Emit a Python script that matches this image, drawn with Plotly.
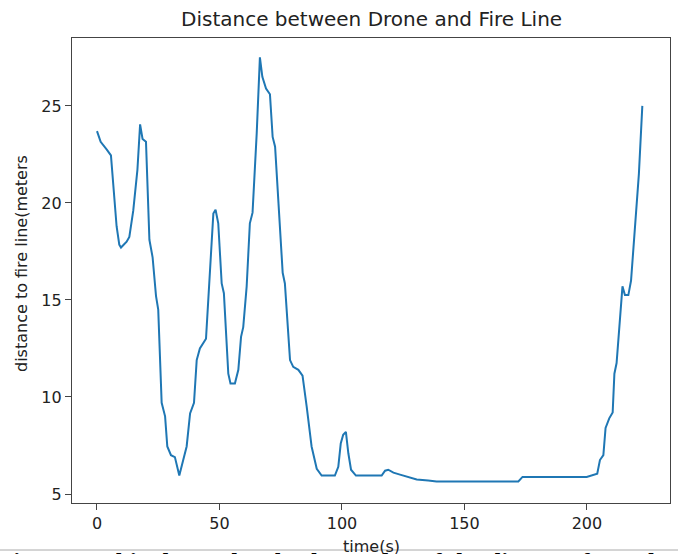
import plotly.graph_objects as go

time_s = [0, 1.5, 4, 5.7, 8, 9.1, 9.8, 12.1, 13.2, 14.8,
          16.5, 17.6, 18.6, 20, 21.4, 22.7, 24.1, 25, 26.4, 27.8,
          28.7, 30.2, 31.8, 33.6, 35.2, 36.6, 38, 39.6, 40.7, 42,
          44.5, 46.1, 47.5, 48.4, 49.5, 50.9, 51.8, 53.6, 54.5, 56.3,
          57.7, 58.8, 59.7, 61.1, 62.4, 63.5, 65.2, 66.5, 67.5, 69,
          70.6, 71.7, 72.7, 75.8, 76.7, 78.8, 80.1, 82.2, 83.9, 85.6,
          87.6, 89.7, 91.7, 97.1, 98.5, 99.5, 100.5, 101.6, 102.6, 103.7,
          105.7, 116.2, 117.6, 118.9, 121, 123.7, 126.4, 130.5, 135.2, 138.6,
          172, 173.7, 199.9, 204.2, 205.3, 206.7, 207.6, 209.1, 210.5, 211.2,
          212.1, 214.5, 215.5, 216.9, 218, 219.6, 221.2, 222.6]

distance_m = [23.7, 23.15, 22.75, 22.45, 18.8, 17.85, 17.7, 18.0, 18.25, 19.6,
              21.7, 24.05, 23.3, 23.15, 18.1, 17.2, 15.2, 14.5, 9.7, 9.0,
              7.45, 7.0, 6.9, 5.95, 6.75, 7.45, 9.15, 9.7, 11.9, 12.5,
              13.0, 16.7, 19.45, 19.65, 18.95, 15.85, 15.35, 11.2, 10.7, 10.7,
              11.4, 13.1, 13.6, 15.7, 18.95, 19.5, 23.6, 27.5, 26.5, 25.9,
              25.6, 23.4, 22.9, 16.4, 15.85, 11.9, 11.55, 11.4, 11.1, 9.5,
              7.45, 6.3, 5.95, 5.95, 6.4, 7.6, 8.05, 8.2, 7.1, 6.25,
              5.95, 5.95, 6.2, 6.25, 6.1, 6.0, 5.9, 5.75, 5.7, 5.65,
              5.65, 5.88, 5.88, 6.05, 6.75, 7.0, 8.4, 8.9, 9.2, 11.2,
              11.75, 15.7, 15.25, 15.25, 16.0, 18.6, 21.5, 25.0]

x_ticks = [0, 50, 100, 150, 200]
y_ticks = [5, 10, 15, 20, 25]

title_text = "Distance between Drone and Fire Line"
xlabel_text = "time(s)"
ylabel_text = "distance to fire line(meters"
caption_text = "Figure 6. This shows the absolute value of the distance from the fire line"

W, H = 678, 554
L, R, T, B = 72, 670, 38, 503

def py(p):
    return (B - p) / (B - T)

def px(p):
    return (p - L) / (R - L)

fig = go.Figure()
fig.add_trace(go.Scatter(x=time_s, y=distance_m, mode="lines",
                         line=dict(color="#1f77b4", width=2)))

font = "DejaVu Sans, Verdana, sans-serif"
axis_common = dict(showgrid=False, zeroline=False, showline=True, mirror=True,
                   linecolor="#444", linewidth=1.2, ticks="outside", ticklen=6,
                   tickwidth=1.2, tickcolor="#444",
                   tickfont=dict(family=font, size=16, color="#222"))

fig.update_xaxes(range=[-10.2, 233.9], tickvals=x_ticks, **axis_common)
fig.update_yaxes(range=[4.536, 28.5], tickvals=y_ticks, **axis_common)

annotations = [
    dict(text=title_text, x=0.5, y=py(33), xref="paper", yref="paper",
         xanchor="center", yanchor="bottom", showarrow=False,
         font=dict(family=font, size=20, color="#222")),
    dict(text=ylabel_text, x=px(21), y=py(264), xref="paper", yref="paper",
         xanchor="center", yanchor="middle", textangle=-90, showarrow=False,
         font=dict(family=font, size=16, color="#222")),
    dict(text=xlabel_text, x=0.5, y=py(535), xref="paper", yref="paper",
         xanchor="center", yanchor="top", showarrow=False,
         font=dict(family=font, size=16, color="#222")),
    dict(text="<b>" + caption_text + "</b>", x=px(-4), y=py(547), xref="paper", yref="paper",
         xanchor="left", yanchor="top", showarrow=False,
         font=dict(family="Liberation Serif, Times New Roman, serif", size=25, color="#000")),
]

shapes = [
    dict(type="rect", xref="paper", yref="paper", x0=px(-10), x1=px(700),
         y0=py(550), y1=py(600), fillcolor="white", line=dict(width=0), layer="above"),
    dict(type="line", xref="paper", yref="paper", x0=px(0), x1=px(678),
         y0=py(550), y1=py(550), line=dict(color="#aaa", width=1), layer="above"),
]

fig.update_layout(width=W, height=H, margin=dict(l=L, r=W - R, t=T, b=H - B),
                  paper_bgcolor="white", plot_bgcolor="white", showlegend=False,
                  annotations=annotations, shapes=shapes)

fig.write_html("out.html")
